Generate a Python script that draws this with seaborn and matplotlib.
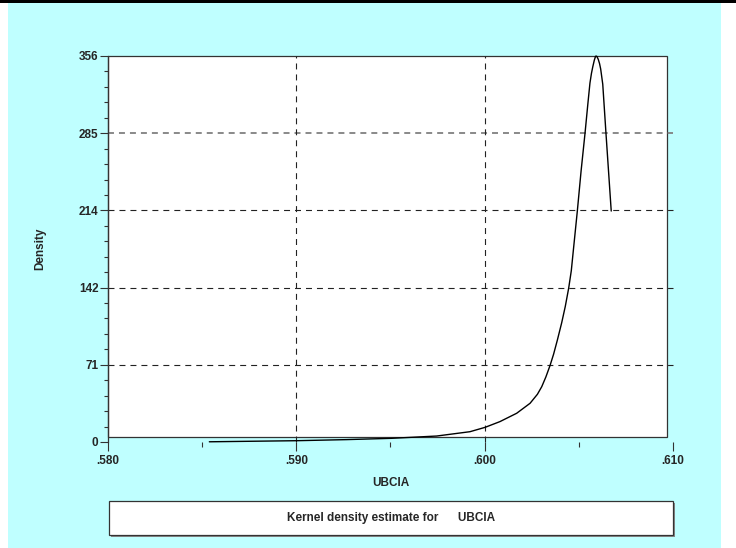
import matplotlib
matplotlib.use("Agg")
import matplotlib.pyplot as plt
from matplotlib.patches import Rectangle
from matplotlib.ticker import MultipleLocator, FixedLocator
import seaborn as sns
import pandas as pd

# ---- data ----
ubcia = [0.58538, 0.59002, 0.59267, 0.59506, 0.59745, 0.59922, 0.60002,
         0.60081, 0.60170, 0.60241, 0.60280, 0.60303, 0.60325, 0.60347,
         0.60366, 0.60386, 0.60409, 0.60428, 0.60446, 0.60460, 0.60471,
         0.60492, 0.60512, 0.60533, 0.60548, 0.60559, 0.60567, 0.60574,
         0.60582, 0.60587, 0.60591, 0.60596, 0.60603, 0.60610, 0.60616,
         0.60627, 0.60644, 0.60672]
density = [0.2, 1.2, 2.2, 3.4, 5.5, 9.5, 13.5,
           18.8, 26.5, 35.7, 44.0, 51.0, 60.0, 70.5,
           81.0, 94.0, 110.0, 125.0, 141.8, 158.0, 177.0,
           213.0, 250.0, 285.0, 312.0, 331.0, 340.0, 346.0,
           352.0, 354.8, 356.0, 355.5, 353.0, 349.0, 344.0,
           330.0, 285.0, 213.0]

xtick_values = [0.580, 0.590, 0.600, 0.610]
xtick_labels = [".580", ".590", ".600", ".610"]
xminor_values = [0.585, 0.595, 0.605]
ytick_values = [0, 71.2, 142.4, 213.6, 284.8, 356]
ytick_labels = ["0", "71", "142", "214", "285", "356"]
x_label = "UBCIA"
y_label = "Density"
legend_text = "Kernel density estimate for      UBCIA"

df = pd.DataFrame({"UBCIA": ubcia, "Density": density})

sns.set_style("white")
plt.rcParams["font.family"] = ["Liberation Sans", "DejaVu Sans"]
plt.rcParams["lines.scale_dashes"] = False

W, H = 736, 548
fig = plt.figure(figsize=(W / 100, H / 100), dpi=100)
fig.patch.set_facecolor("white")

def fx(px):
    return px / W

def fy(py):
    return 1 - py / H

# background
fig.add_artist(Rectangle((fx(8), fy(548)), fx(721) - fx(8), fy(2) - fy(548),
                         transform=fig.transFigure, fc="#bfffff", ec="none", zorder=-10))
fig.add_artist(Rectangle((0, fy(2.5)), 1, 1 - fy(2.5),
                         transform=fig.transFigure, fc="black", ec="none", zorder=-9))

ax = fig.add_axes([fx(108), fy(442), (673 - 108) / W, (442 - 56) / H])
ax.set_facecolor("none")
for s in ax.spines.values():
    s.set_visible(False)
ax.spines["left"].set_visible(True)
ax.spines["left"].set_color("#333333")
ax.spines["left"].set_linewidth(0.9)

ax.set_xlim(0.580, 0.610)
ax.set_ylim(0, 356)

# white plot box (inset at bottom and right as in the reference)
xr = 0.580 + (667 - 108) / 565 * 0.030
yb = (442 - 437) / 386 * 356
ax.add_patch(Rectangle((0.580, yb), xr - 0.580, 356 - yb, fc="white",
                       ec="#333333", lw=0.9, zorder=0, clip_on=False))

# grid lines
for v in ytick_values[1:-1]:
    col = "#808080" if v > 250 else "#222222"
    lw = 1.3 if v > 250 else 0.8
    ax.plot([0.580, 0.610], [v, v], color=col, lw=lw, dashes=(4.3, 3.6),
            zorder=1, clip_on=False)
for v in xtick_values[1:-1]:
    ax.plot([v, v], [0, 356], color="#222222", lw=0.8, dashes=(4.3, 3.6),
            zorder=1, clip_on=False)

sns.lineplot(data=df, x="UBCIA", y="Density", ax=ax, color="black",
             lw=1.0, zorder=3, sort=False, estimator=None)
for l in ax.lines:
    l.set_clip_on(False)

ax.set_xlabel("")
ax.set_ylabel("")

ax.xaxis.set_major_locator(FixedLocator(xtick_values))
ax.set_xticklabels(xtick_labels)
ax.xaxis.set_minor_locator(FixedLocator(xminor_values))
ax.yaxis.set_major_locator(FixedLocator(ytick_values))
ax.set_yticklabels(ytick_labels)
ax.yaxis.set_minor_locator(MultipleLocator(356 / 25))

ax.tick_params(axis="x", which="major", direction="out", length=6.5, width=0.8,
               color="#333333", pad=3.2, labelsize=8.5, bottom=True)
ax.tick_params(axis="x", which="minor", direction="out", length=3.6, width=0.8,
               color="#333333", bottom=True)
ax.tick_params(axis="y", which="major", direction="out", length=5.8, width=0.8,
               color="#333333", pad=1.0, labelsize=8.5, left=True)
ax.tick_params(axis="y", which="minor", direction="out", length=2.9, width=0.8,
               color="#333333", left=True)
for t in ax.get_xticklabels() + ax.get_yticklabels():
    t.set_fontweight("bold")

# axis titles
fig.text(fx(390.5), fy(483), x_label, ha="center", va="center",
         fontsize=8.5, fontweight="bold")
fig.text(fx(40), fy(249), y_label, ha="center", va="center", rotation=90,
         fontsize=8.5, fontweight="bold")

# legend box with shadow
fig.add_artist(Rectangle((fx(111), fy(537)), fx(673) - fx(109), fy(501) - fy(535),
                         transform=fig.transFigure, fc="#888888", ec="none", zorder=1))
fig.add_artist(Rectangle((fx(109), fy(535)), fx(673) - fx(109), fy(501) - fy(535),
                         transform=fig.transFigure, fc="white", ec="#333333", lw=0.9, zorder=2))
fig.text(fx(391), fy(518), legend_text, ha="center", va="center",
         fontsize=8.5, fontweight="bold", zorder=3)

fig.savefig("out.png", dpi=100, facecolor=fig.get_facecolor())
